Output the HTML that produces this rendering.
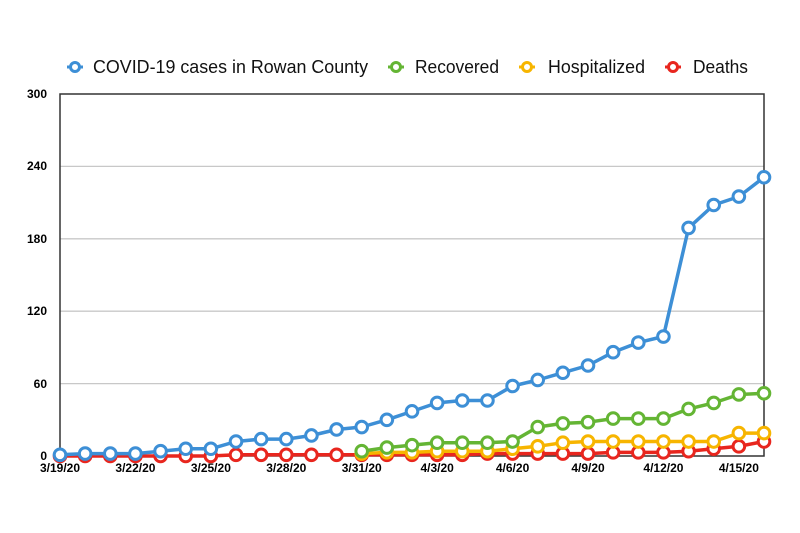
<!DOCTYPE html>
<html><head><meta charset="utf-8"><style>
body{margin:0;background:#fff;width:800px;height:533px;overflow:hidden}
svg{display:block}
</style></head><body>
<svg id="c" width="800" height="533" xmlns="http://www.w3.org/2000/svg" font-family="Liberation Sans, sans-serif">
<rect width="800" height="533" fill="#fff"/>
<g stroke="#c8c8c8" stroke-width="1.3">
<line x1="60" y1="166.4" x2="764" y2="166.4"/>
<line x1="60" y1="238.8" x2="764" y2="238.8"/>
<line x1="60" y1="311.2" x2="764" y2="311.2"/>
<line x1="60" y1="383.6" x2="764" y2="383.6"/>
</g>
<rect x="60" y="94" width="704" height="362" fill="none" stroke="#333" stroke-width="1.5"/>
<g font-size="12" font-weight="bold" text-anchor="end" fill="#000">
<text x="47" y="98">300</text><text x="47" y="170">240</text><text x="47" y="243">180</text>
<text x="47" y="315">120</text><text x="47" y="388">60</text><text x="47" y="460">0</text>
</g>
<g font-size="12" font-weight="bold" text-anchor="middle" fill="#000" id="xl"></g>
<g id="series"></g>
<g font-size="18" fill="#111" stroke-width="3">
<line x1="67" y1="67" x2="83" y2="67" stroke="#3d8fd6"/><circle cx="75" cy="67" r="4.5" fill="#fff" stroke="#3d8fd6"/><text x="93" y="73" textLength="275" lengthAdjust="spacingAndGlyphs">COVID-19 cases in Rowan County</text>
<line x1="388" y1="67" x2="404" y2="67" stroke="#64b534"/><circle cx="396" cy="67" r="4.5" fill="#fff" stroke="#64b534"/><text x="415" y="73" textLength="84" lengthAdjust="spacingAndGlyphs">Recovered</text>
<line x1="519" y1="67" x2="535" y2="67" stroke="#f7b500"/><circle cx="527" cy="67" r="4.5" fill="#fff" stroke="#f7b500"/><text x="548" y="73" textLength="97" lengthAdjust="spacingAndGlyphs">Hospitalized</text>
<line x1="665" y1="67" x2="681" y2="67" stroke="#e8261e"/><circle cx="673" cy="67" r="4.5" fill="#fff" stroke="#e8261e"/><text x="693" y="73" textLength="55" lengthAdjust="spacingAndGlyphs">Deaths</text>
</g>
</svg>
<script>
var ns="http://www.w3.org/2000/svg";
function X(i){return 60+i*25.143}
function Y(v){return 456-v*1.2067}
var xl=document.getElementById('xl');
var labs=["3/19/20","3/22/20","3/25/20","3/28/20","3/31/20","4/3/20","4/6/20","4/9/20","4/12/20","4/15/20"];
labs.forEach(function(l,k){var t=document.createElementNS(ns,'text');t.setAttribute('x',X(k*3));t.setAttribute('y',472);t.textContent=l;xl.appendChild(t);});
var S=[
 ["#e8261e",0,[0,0,0,0,0,0,0,1,1,1,1,1,1,1,1,1,1,2,2,2,2,2,3,3,3,4,6,8,12]],
 ["#f7b500",12,[2,3,3,4,4,4,6,8,11,12,12,12,12,12,12,19,19]],
 ["#64b534",12,[4,7,9,11,11,11,12,24,27,28,31,31,31,39,44,51,52]],
 ["#3d8fd6",0,[1,2,2,2,4,6,6,12,14,14,17,22,24,30,37,44,46,46,58,63,69,75,86,94,99,189,208,215,231]]
];
var g=document.getElementById('series');
S.forEach(function(s){
 var pts=s[2].map(function(v,i){return X(i+s[1]).toFixed(1)+","+Y(v).toFixed(1)}).join(" ");
 var p=document.createElementNS(ns,'polyline');p.setAttribute('points',pts);p.setAttribute('fill','none');
 p.setAttribute('stroke',s[0]);p.setAttribute('stroke-width','3.5');p.setAttribute('stroke-linejoin','round');g.appendChild(p);
 s[2].forEach(function(v,i){var c=document.createElementNS(ns,'circle');c.setAttribute('cx',X(i+s[1]));c.setAttribute('cy',Y(v));
 c.setAttribute('r','5.8');c.setAttribute('fill','#fff');c.setAttribute('stroke',s[0]);c.setAttribute('stroke-width','3');g.appendChild(c);});
});
</script>
</body></html>
